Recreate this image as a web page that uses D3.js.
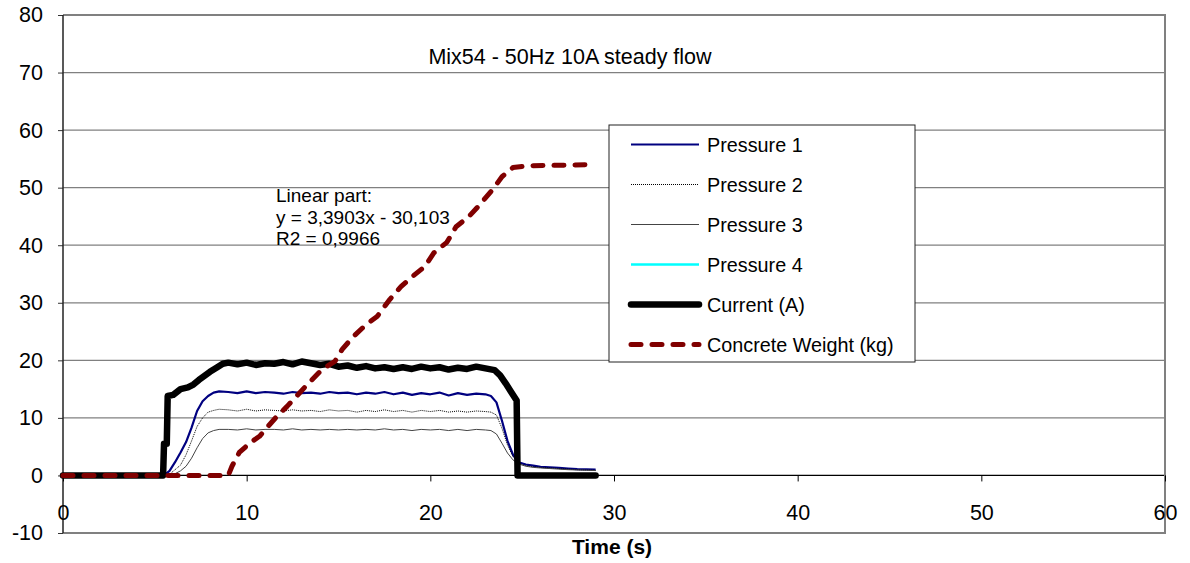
<!DOCTYPE html>
<html>
<head>
<meta charset="utf-8">
<script src="https://cdn.jsdelivr.net/npm/d3@7/dist/d3.min.js"></script>
<style>
	body { margin: 0; background: #fff; }
	svg { display: block; font-family: 'Liberation Sans', Arial, sans-serif; }
</style>
</head>
<body>
<div id="chart"></div>
<script>
// time grid shared by the pressure probes (s)
const pressureTime = [0, 5.5, 5.8, 6.1, 6.4, 6.7, 7.0, 7.3, 7.6, 7.9, 8.2, 8.5,
	9.0, 9.5, 10.0, 10.5, 11.0, 11.5, 12.0, 12.5, 13.0, 13.5, 14.0, 14.5, 15.0, 15.5,
	16.0, 16.5, 17.0, 17.5, 18.0, 18.5, 19.0, 19.5, 20.0, 20.5, 21.0, 21.5, 22.0, 22.5,
	23.0, 23.3, 23.6, 23.9, 24.2, 24.5, 24.8, 25.2, 25.6, 26.0, 26.5, 27.0, 27.5, 28.0, 28.5, 29.0];

const pressure1 = [0, 0, 0.8, 2.3, 4.0, 5.8, 8.3, 11.2, 12.9, 13.8, 14.4, 14.6,
	14.5, 14.3, 14.6, 14.3, 14.5, 14.4, 14.2, 14.5, 14.3, 14.4, 14.2, 14.5, 14.3, 14.4,
	14.1, 14.4, 14.2, 14.5, 14.1, 14.4, 14.0, 14.3, 14.1, 14.4, 13.9, 14.3, 14.0, 14.2,
	14.1, 13.8, 12.7, 9.5, 6.0, 3.6, 2.3, 1.9, 1.7, 1.5, 1.4, 1.3, 1.2, 1.1, 1.05, 1.0];

const pressure2 = [0, 0, 0.2, 1.0, 1.8, 3.6, 6.0, 8.5, 10.0, 11.0, 11.3, 11.5,
	11.4, 11.2, 11.5, 11.2, 11.4, 11.3, 11.2, 11.4, 11.2, 11.3, 11.1, 11.4, 11.2, 11.3,
	11.0, 11.3, 11.1, 11.4, 11.1, 11.3, 11.0, 11.3, 11.1, 11.3, 11.0, 11.2, 11.0, 11.2,
	11.1, 11.0, 10.5, 8.2, 5.3, 3.3, 2.1, 1.7, 1.5, 1.4, 1.3, 1.2, 1.1, 1.0, 0.95, 0.9];

const pressure3 = [0, 0, 0, 0.3, 0.8, 1.6, 3.0, 4.8, 6.4, 7.4, 7.8, 8.0,
	8.0, 7.9, 8.1, 7.9, 8.0, 8.0, 7.9, 8.1, 7.9, 8.0, 7.9, 8.0, 7.9, 8.0,
	7.9, 8.0, 7.9, 8.1, 7.9, 8.0, 7.8, 8.0, 7.9, 8.0, 7.8, 8.0, 7.8, 8.0,
	7.9, 7.8, 7.2, 5.6, 3.9, 2.7, 2.0, 1.6, 1.4, 1.3, 1.2, 1.1, 1.0, 0.95, 0.9, 0.85];

// pressure 4 is in the legend but draws nothing
const pressure4 = [];

const currentTime = [0, 5.45, 5.5, 5.65, 5.7, 6.0, 6.4, 6.8, 7.1, 7.4, 7.7, 8.0, 8.4, 8.7,
	9.0, 9.5, 10.0, 10.5, 11.0, 11.5, 12.0, 12.5, 13.0, 13.5, 14.0, 14.5, 15.0, 15.5,
	16.0, 16.5, 17.0, 17.5, 18.0, 18.5, 19.0, 19.5, 20.0, 20.5, 21.0, 21.5, 22.0, 22.5,
	23.0, 23.5, 23.8, 24.1, 24.4, 24.7, 24.75, 29.0];
const current = [0, 0, 5.5, 5.5, 13.8, 14.0, 15.0, 15.3, 15.8, 16.6, 17.3, 18.0, 18.8, 19.4,
	19.6, 19.3, 19.6, 19.2, 19.5, 19.4, 19.7, 19.3, 19.8, 19.5, 19.2, 19.4, 18.9, 19.1,
	18.7, 19.0, 18.6, 18.8, 18.5, 18.8, 18.5, 18.9, 18.6, 18.8, 18.4, 18.7, 18.5, 18.9,
	18.6, 18.3, 17.4, 16.0, 14.5, 13.0, 0, 0];

const weightTime = [0, 9.0, 9.2, 9.6, 10.2, 10.7, 11.1, 11.6, 12.2, 12.7, 13.3, 14.1, 14.8,
	15.2, 15.8, 16.5, 17.1, 17.8, 18.4, 19.0, 19.7, 20.2, 20.9, 21.4, 22.1, 22.6, 23.4,
	23.9, 24.5, 25.4, 29.0];
const weight = [0, 0, 1.6, 4.0, 5.7, 6.8, 8.3, 10.1, 12.0, 13.7, 15.8, 18.4, 19.8,
	21.9, 24.1, 26.2, 27.6, 30.6, 32.8, 34.5, 36.3, 38.7, 40.5, 43.2, 45.0, 46.7, 49.7,
	51.9, 53.5, 53.8, 54.0];

const xTicks = [0, 10, 20, 30, 40, 50, 60];
const yTicks = [-10, 0, 10, 20, 30, 40, 50, 60, 70, 80];

const chartTitle = 'Mix54 - 50Hz 10A steady flow';
const fitNote = ['Linear part:', 'y = 3,3903x - 30,103', 'R2 = 0,9966'];

const width = 1190;
const height = 563;

const svg = d3.select('#chart')
	.append('svg')
	.attr('width', width)
	.attr('height', height);

const x = d3.scaleLinear().domain([0, 60]).range([63, 1165]);
const y = d3.scaleLinear().domain([-10, 80]).range([533, 15]);

// horizontal grid
svg.append('g')
	.selectAll('line')
	.data(yTicks)
	.enter()
	.append('line')
	.attr('x1', x(0))
	.attr('x2', x(60))
	.attr('y1', (d) => y(d))
	.attr('y2', (d) => y(d))
	.attr('stroke', (d) => d === 0 ? '#000' : '#808080')
	.attr('stroke-width', (d) => (d === 80 || d === -10) ? 2 : 1.2);

// right border
svg.append('line')
	.attr('x1', x(60))
	.attr('x2', x(60))
	.attr('y1', y(80) - 1)
	.attr('y2', y(-10) + 1)
	.attr('stroke', '#808080')
	.attr('stroke-width', 2);

// y axis
const yAxis = svg.append('g')
	.attr('transform', `translate(${x(0)},0)`)
	.call(d3.axisLeft(y)
		.tickValues(yTicks)
		.tickFormat((d) => String(d))
		.tickSize(5)
		.tickSizeOuter(0)
		.tickPadding(15));

yAxis.select('.domain').remove();
yAxis.selectAll('.tick line').attr('stroke', '#333');
yAxis.selectAll('text')
	.attr('font-size', 21.5)
	.attr('font-family', 'Liberation Sans, Arial, sans-serif')
	.attr('fill', '#000');

svg.append('line')
	.attr('x1', x(0))
	.attr('x2', x(0))
	.attr('y1', y(80))
	.attr('y2', y(-10))
	.attr('stroke', '#222')
	.attr('stroke-width', 1.5);

// x axis sits on the zero line
const xAxis = svg.append('g')
	.attr('transform', `translate(0,${y(0)})`)
	.call(d3.axisBottom(x)
		.tickValues(xTicks)
		.tickFormat((d) => String(d))
		.tickSize(6)
		.tickSizeOuter(0)
		.tickPadding(23));

xAxis.select('.domain').remove();
xAxis.selectAll('.tick line').attr('stroke', '#000');
xAxis.selectAll('text')
	.attr('font-size', 21.5)
	.attr('font-family', 'Liberation Sans, Arial, sans-serif')
	.attr('fill', '#000');

svg.append('text')
	.attr('x', 612)
	.attr('y', 554)
	.attr('text-anchor', 'middle')
	.attr('font-size', 21)
	.attr('font-weight', 'bold')
	.text('Time (s)');

// series
const line = d3.line()
	.x((d) => x(d[0]))
	.y((d) => y(d[1]));

const series = [
	{ name: 'Pressure 1', data: d3.zip(pressureTime, pressure1), color: '#000080', width: 2.2, dash: null, cap: 'butt' },
	{ name: 'Pressure 2', data: d3.zip(pressureTime, pressure2), color: '#000', width: 1, dash: '1,1', cap: 'butt' },
	{ name: 'Pressure 3', data: d3.zip(pressureTime, pressure3), color: '#444', width: 1, dash: null, cap: 'butt' },
	{ name: 'Pressure 4', data: pressure4, color: '#00ffff', width: 2.5, dash: null, cap: 'butt' },
	{ name: 'Current (A)', data: d3.zip(currentTime, current), color: '#000', width: 6.5, dash: null, cap: 'round' },
	{ name: 'Concrete Weight (kg)', data: d3.zip(weightTime, weight), color: '#800000', width: 5, dash: '10,11', cap: 'round' }
];

svg.append('g')
	.selectAll('path')
	.data(series.filter((s) => s.data.length > 0))
	.enter()
	.append('path')
	.attr('d', (s) => line(s.data))
	.attr('fill', 'none')
	.attr('stroke', (s) => s.color)
	.attr('stroke-width', (s) => s.width)
	.attr('stroke-dasharray', (s) => s.dash)
	.attr('stroke-linecap', (s) => s.cap)
	.attr('stroke-linejoin', 'round');

// title and fit note
svg.append('text')
	.attr('x', 570)
	.attr('y', 64)
	.attr('text-anchor', 'middle')
	.attr('font-size', 21.5)
	.text(chartTitle);

svg.append('g')
	.selectAll('text')
	.data(fitNote)
	.enter()
	.append('text')
	.attr('x', 276)
	.attr('y', (d, i) => 202 + i * 21.5)
	.attr('font-size', 19)
	.text((d) => d);

// legend
const legend = svg.append('g')
	.attr('transform', 'translate(609,125)');

legend.append('rect')
	.attr('width', 306)
	.attr('height', 237)
	.attr('fill', '#fff')
	.attr('stroke', '#222')
	.attr('stroke-width', 1);

const entry = legend.selectAll('g.entry')
	.data(series)
	.enter()
	.append('g')
	.attr('class', 'entry')
	.attr('transform', (d, i) => `translate(0,${19.5 + i * 40})`);

entry.append('line')
	.attr('x1', 22)
	.attr('x2', 90)
	.attr('stroke', (s) => s.color)
	.attr('stroke-width', (s) => s.name === 'Pressure 3' ? 1.2 : s.width)
	.attr('stroke-dasharray', (s) => s.dash)
	.attr('stroke-linecap', (s) => s.cap);

entry.append('text')
	.attr('x', 98)
	.attr('y', 7.5)
	.attr('font-size', 19.8)
	.text((s) => s.name);
</script>
</body>
</html>
